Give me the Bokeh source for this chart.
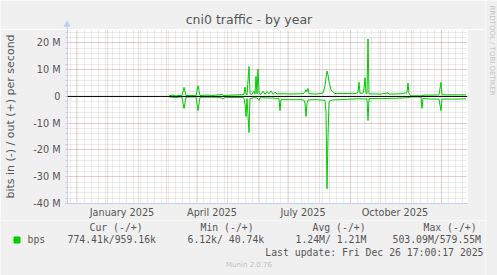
import math
import pandas as pd
from bokeh.plotting import figure
from bokeh.layouts import row, column
from bokeh.models import (ColumnDataSource, Range1d, FixedTicker, CustomJSTickFormatter, Span)
from bokeh.core.properties import value
from bokeh.embed import file_html
from bokeh.resources import INLINE

# ---------------- data ----------------
title_text = "cni0 traffic - by year"
y_axis_label = "bits in (-) / out (+) per second"

dates = [
    "2025-03-04", "2025-03-08", "2025-03-11", "2025-03-14", "2025-03-17", "2025-03-19",
    "2025-03-21", "2025-03-26", "2025-03-31", "2025-04-02", "2025-04-04", "2025-04-10",
    "2025-04-17", "2025-04-23", "2025-04-25", "2025-04-26", "2025-04-27", "2025-04-28",
    "2025-04-29", "2025-05-05", "2025-05-13", "2025-05-17", "2025-05-18", "2025-05-19",
    "2025-05-20", "2025-05-21", "2025-05-23", "2025-05-24", "2025-05-26", "2025-05-28",
    "2025-05-29", "2025-05-30", "2025-05-31", "2025-06-01", "2025-06-02", "2025-06-03",
    "2025-06-04", "2025-06-06", "2025-06-08", "2025-06-10", "2025-06-12", "2025-06-14",
    "2025-06-16", "2025-06-18", "2025-06-20", "2025-06-22", "2025-06-23", "2025-06-24",
    "2025-06-26", "2025-07-04", "2025-07-14", "2025-07-17", "2025-07-18", "2025-07-19",
    "2025-07-20", "2025-07-21", "2025-07-22", "2025-07-29", "2025-08-05", "2025-08-07",
    "2025-08-08", "2025-08-09", "2025-08-10", "2025-08-11", "2025-08-13", "2025-08-15",
    "2025-08-17", "2025-08-23", "2025-08-28", "2025-09-02", "2025-09-07", "2025-09-09",
    "2025-09-10", "2025-09-11", "2025-09-12", "2025-09-14", "2025-09-15", "2025-09-16",
    "2025-09-17", "2025-09-18", "2025-09-19", "2025-09-20", "2025-09-27", "2025-10-02",
    "2025-10-09", "2025-10-10", "2025-10-17", "2025-10-22", "2025-10-25", "2025-10-27",
    "2025-10-28", "2025-10-29", "2025-10-30", "2025-11-01", "2025-11-11", "2025-11-12",
    "2025-11-13", "2025-11-14", "2025-11-21", "2025-11-29", "2025-12-01", "2025-12-02",
    "2025-12-16", "2025-12-26",
]
# outbound traffic, Mbit/s (drawn above zero)
out_mbps = [
    0.2, 0.5, 0.1, 0.4, 0.2, 3.4,
    0.3, 0.4, 0.2, 4.0, 0.3, 0.5,
    0.4, 0.6, 0.7, 0.8, 0.5, 0.3,
    0.4, 0.5, 0.6, 0.7, 0.8, 3.5,
    1.0, 0.5, 11.2, 1.0, 0.8, 2.0,
    0.8, 7.5, 1.0, 10.2, 1.5, 0.8,
    0.8, 2.0, 0.8, 1.8, 1.0, 2.0,
    0.8, 1.6, 0.9, 1.0, 0.9, 1.0,
    1.0, 0.9, 1.0, 1.1, 1.5, 2.5,
    1.8, 3.0, 1.0, 0.9, 1.2, 4.0,
    7.0, 9.5, 8.0, 5.5, 2.5, 1.5,
    1.1, 1.1, 1.1, 1.1, 1.1, 1.5,
    5.3, 1.2, 1.2, 1.2, 3.0, 7.0,
    1.0, 1.0, 21.5, 1.0, 0.9, 0.9,
    1.3, 0.9, 0.9, 1.0, 1.2, 1.3,
    1.5, 5.0, 1.0, 0.2, 0.2, 0.3,
    0.4, 0.5, 0.5, 0.6, 5.3, 0.6,
    0.6, 0.6,
]
# inbound traffic, Mbit/s (drawn below zero)
in_mbps = [
    0.2, 0.3, 0.5, 0.2, 0.3, 4.5,
    0.3, 0.2, 0.2, 5.3, 0.3, 0.3,
    0.3, 0.4, 0.5, 0.7, 1.0, 0.6,
    0.4, 0.4, 0.4, 0.4, 0.6, 3.0,
    7.5, 0.8, 13.5, 0.8, 0.6, 0.5,
    0.5, 0.6, 0.5, 1.0, 1.5, 0.5,
    0.5, 0.5, 0.6, 0.5, 0.6, 0.6,
    0.6, 0.7, 0.7, 0.8, 5.3, 1.2,
    1.2, 1.2, 1.2, 1.4, 2.5, 7.5,
    2.5, 1.3, 1.3, 1.2, 1.4, 1.5,
    6.0, 34.5, 15.0, 2.0, 1.5, 1.3,
    1.3, 1.2, 1.1, 1.0, 0.9, 0.9,
    0.9, 0.9, 0.9, 0.9, 0.9, 1.0,
    0.9, 0.9, 9.0, 0.8, 0.8, 0.8,
    0.8, 0.7, 0.7, 0.6, 0.5, 0.5,
    0.5, 0.5, 0.4, 0.2, 0.2, 4.5,
    0.6, 0.8, 1.0, 1.0, 5.3, 1.0,
    1.0, 0.9,
]

ytick_values = [-40, -30, -20, -10, 0, 10, 20]
ytick_labels = ["-40 M", "-30 M", "-20 M", "-10 M", "0", "10 M", "20 M"]
xtick_dates = ["2025-01-16", "2025-04-16", "2025-07-16", "2025-10-16"]
xtick_labels = ["January 2025", "April 2025", "July 2025", "October 2025"]

legend_series = "bps"
legend_headers = ["Cur (-/+)", "Min (-/+)", "Avg (-/+)", "Max (-/+)"]
legend_values = ["774.41k/959.16k", "6.12k/ 40.74k", "1.24M/  1.21M", "503.09M/579.55M"]
last_update = "Last update: Fri Dec 26 17:00:17 2025"
version_text = "Munin 2.0.76"
watermark = "RRDTOOL / TOBI OETIKER"

# ---------------- layout constants ----------------
W, H = 497, 275
LEFT_W = 485            # width of the left column (title / plot / legend)
TOP_H = 29              # title strip height
MAIN_H = 191            # plot figure height
LEG_H = H - TOP_H - MAIN_H
FL, FR = 67, 467        # frame left/right (px)
FRAME_H = 174
Y_LO, Y_HI = -40, 25

BG = "#F0F0F0"
FONT_COLOR = "#555555"
AXIS_COLOR = "#C8CCF0"
GREEN = "#00CC00"
SANS = "DejaVu Sans"
MONO = "DejaVu Sans Mono"

x_start = pd.Timestamp("2024-11-22 12:00")
x_end = x_start + pd.Timedelta(days=400)


def ms(d):
    return pd.Timestamp(d).value / 1e6


def blank_fig(w, h):
    f = figure(width=w, height=h, output_backend="svg", toolbar_location=None,
               x_range=Range1d(0, w), y_range=Range1d(0, h), title=None,
               x_axis_location=None, y_axis_location=None, min_border=0,
               frame_align=False,
               background_fill_color=BG, border_fill_color=BG, outline_line_color=None)
    for g in f.grid:
        g.visible = False
    return f


def put_text(f, top, px, py, text, size, color=FONT_COLOR, font=SANS,
             align="left", angle=0.0):
    f.text(x=[px], y=[f.height - (py - top)], text=[text], text_font=value(font),
           text_font_size=size, text_color=color, text_align=align,
           text_baseline="middle", angle=angle)


# ---------------- title strip ----------------
top = blank_fig(LEFT_W, TOP_H)
put_text(top, 0, 248.5, 19, title_text, "12.5px", align="center")
# y-axis arrow
top.segment(x0=[FL - 0.5], y0=[0], x1=[FL - 0.5], y1=[TOP_H - 23], line_color=AXIS_COLOR,
            line_width=1)
top.scatter(x=[FL - 0.5], y=[TOP_H - 24], marker="triangle", size=6,
            fill_color=AXIS_COLOR, line_color=AXIS_COLOR)

# ---------------- main plot ----------------
p = figure(width=LEFT_W, height=MAIN_H, x_axis_type="datetime", output_backend="svg",
           toolbar_location=None, title=None, frame_align=False,
           x_range=Range1d(x_start, x_end), y_range=Range1d(Y_LO, Y_HI),
           min_border_left=FL, min_border_right=LEFT_W - FR, min_border_top=0,
           min_border_bottom=MAIN_H - FRAME_H,
           background_fill_color="#FFFFFF", border_fill_color=BG,
           outline_line_color=None)

month_ms = [t.value / 1e6 for t in pd.date_range("2024-12-01", "2025-12-01", freq="MS")]
week_ms = [t.value / 1e6 for t in pd.date_range("2024-11-25", "2025-12-29", freq="W-MON")]
p.xgrid.ticker = FixedTicker(ticks=month_ms, minor_ticks=week_ms)
for g in (p.xgrid, p.ygrid):
    g.grid_line_color = "#DE4F4F"
    g.grid_line_alpha = 0.4
    g.grid_line_dash = "1 1"
    g.minor_grid_line_color = "#8F8F8F"
    g.minor_grid_line_alpha = 0.35
    g.minor_grid_line_dash = "1 1"

yax = p.yaxis[0]
yax.ticker = FixedTicker(ticks=ytick_values, minor_ticks=list(range(-40, 25, 2)))
yax.major_label_overrides = {v: l for v, l in zip(ytick_values, ytick_labels)}
yax.axis_line_color = AXIS_COLOR
yax.major_tick_in = 0
yax.major_tick_out = 2
yax.minor_tick_in = 0
yax.minor_tick_out = 2
yax.major_tick_line_color = "#E8A8A8"
yax.minor_tick_line_color = "#CCCCCC"
yax.major_label_standoff = 5
yax.major_label_text_font = SANS
yax.major_label_text_font_size = "9.7px"
yax.major_label_text_color = FONT_COLOR
yax.axis_label = y_axis_label
yax.axis_label_text_font = SANS
yax.axis_label_text_font_size = "11px"
yax.axis_label_text_font_style = "normal"
yax.axis_label_text_color = FONT_COLOR
yax.axis_label_standoff = 13

xax = p.xaxis[0]
xax.ticker = FixedTicker(ticks=[ms(d) for d in xtick_dates])
xax.formatter = CustomJSTickFormatter(
    args=dict(label_pos=[ms(d) for d in xtick_dates], label_txt=xtick_labels),
    code="""
    let best = 0;
    for (let k = 0; k < label_pos.length; k++) {
        if (Math.abs(label_pos[k] - tick) < Math.abs(label_pos[best] - tick)) best = k;
    }
    return label_txt[best];
    """)
xax.axis_line_color = AXIS_COLOR
xax.major_tick_in = 0
xax.major_tick_out = 0
xax.minor_tick_in = 0
xax.minor_tick_out = 0
xax.major_label_standoff = 3
xax.major_label_text_font = SANS
xax.major_label_text_font_size = "9.7px"
xax.major_label_text_color = FONT_COLOR

src = ColumnDataSource(dict(
    date=pd.to_datetime(dates),
    out=out_mbps,
    inn=[-v for v in in_mbps],
))
p.line(x="date", y="out", source=src, line_color=GREEN, line_width=1)
p.line(x="date", y="inn", source=src, line_color=GREEN, line_width=1)
p.add_layout(Span(location=0, dimension="width", line_color="black", line_width=1))

# ---------------- legend strip ----------------
LT = TOP_H + MAIN_H
leg = blank_fig(LEFT_W, LEG_H)
for x0, t in zip([89, 200, 312, 423], legend_headers):
    put_text(leg, LT, x0, 227, t, "9.8px", font=MONO)
leg.rect(x=[16.5], y=[LEG_H - (239.5 - LT)], width=6, height=6,
         fill_color=GREEN, line_color=GREEN)
put_text(leg, LT, 27, 239, legend_series, "9.8px", font=MONO)
for x0, t in zip([67, 187, 295, 392], legend_values):
    put_text(leg, LT, x0, 239, t, "9.8px", font=MONO)
put_text(leg, LT, 483, 252, last_update, "9.8px", font=MONO, align="right")
put_text(leg, LT, 248.5, 264, version_text, "7px", color="#C0C0C0", align="center")

# ---------------- watermark strip ----------------
strip = blank_fig(W - LEFT_W, H)
put_text(strip, 0, 491 - LEFT_W, 5, watermark, "7px", color="#C4C4C4",
         align="left", angle=-math.pi / 2)

layout = row(column(top, p, leg), strip)
open("out.html", "w").write(file_html(layout, INLINE))
